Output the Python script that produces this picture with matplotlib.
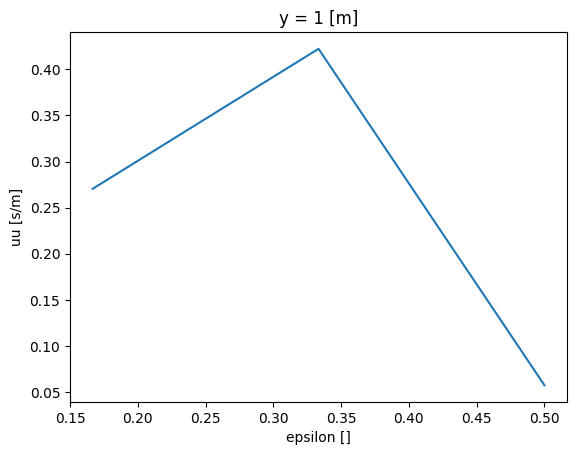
import matplotlib
matplotlib.use('Agg')
import matplotlib.pyplot as plt

# data
epsilon = [1 / 6, 1 / 3, 1 / 2]
uu = [0.2705, 0.4222, 0.0578]

fig = plt.figure(figsize=(5.76, 4.55), dpi=100)
ax = fig.add_axes([70 / 576, (455 - 402) / 455, 497 / 576, 370 / 455])
ax.plot(epsilon, uu)
ax.set_title('y = 1 [m]')
ax.set_xlabel('epsilon []')
ax.set_ylabel('uu [s/m]')
fig.savefig('out.png', dpi=100)
plt.close()
